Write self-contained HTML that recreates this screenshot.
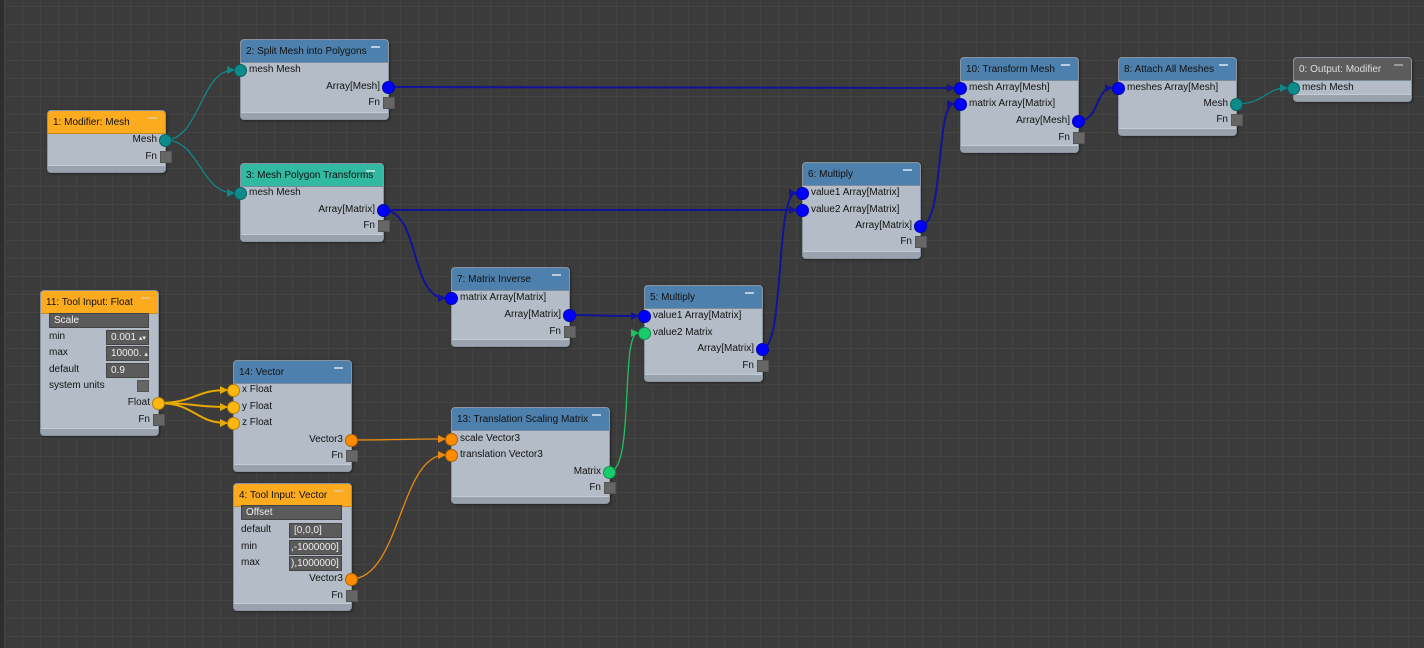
<!DOCTYPE html>
<html><head><meta charset="utf-8"><style>
body{margin:0;width:1424px;height:648px;overflow:hidden;background:#3b3b3b;
background-image:linear-gradient(#434343 1px,transparent 1px),linear-gradient(90deg,#434343 1px,transparent 1px);background-size:18px 18px;background-position:4px 6px;
font-family:"Liberation Sans",sans-serif;font-size:10px;color:#111;position:relative}
.edge{position:absolute;left:0;top:0;width:4px;height:648px;background:#2e2e2e}
.n{position:absolute;background:#b4bdc7;border:1px solid #8a949e;border-radius:4px;box-sizing:border-box;overflow:hidden;box-shadow:1px 1px 2px rgba(0,0,0,.4)}
.n .h{height:22px;line-height:23px;padding-left:5px;background:#4d80ad;border-bottom:1px solid #7a8b9c;white-space:nowrap}
.n .h:after{content:"";position:absolute;right:8px;top:6px;width:9px;height:2px;background:#b8cde0}
.n .f{position:absolute;left:0;right:0;bottom:0;height:6px;background:#9aa3ad;border-top:1px solid #c5ccd4}
.o .h{background:#fcaa1e;border-bottom-color:#c88a20}.o .h:after{background:#e6c27a}
.g .h{background:#31b9a1}.g .h:after{background:#a0e0d0}
.d .h{background:#5c5c5c;color:#ddd}.d .h:after{background:#999}
.l{position:absolute;line-height:14px;white-space:nowrap}
.p{position:absolute;width:13px;height:13px;border-radius:50%;margin:-6.5px 0 0 -6.5px;box-sizing:border-box;border:1px solid rgba(0,0,0,.3)}
.fn{position:absolute;width:12px;height:12px;margin:-6px 0 0 -6px;background:#666;border:1px solid #555;box-sizing:border-box}
.fld{position:absolute;background:#5b5b5b;color:#eee;border:1px solid #444;box-sizing:border-box;line-height:13px;padding-left:4px;white-space:nowrap;overflow:hidden}
.cb{position:absolute;width:12px;height:12px;background:#666;border:1px solid #555;box-sizing:border-box}
.te{background:#0d8a8a}.bl{background:#0000ff}.ye{background:#ffb70f}.or{background:#ff8c00}.gr{background:#18cc6e}
svg{position:absolute;left:0;top:0}
</style></head><body>
<div class="edge"></div>
<svg width="1424" height="648">
<defs>
<marker id="mb" markerWidth="8" markerHeight="8" refX="7" refY="4" orient="auto" markerUnits="userSpaceOnUse"><path d="M0,0L8,4L0,8z" fill="#12129a"/></marker>
<marker id="mt" markerWidth="8" markerHeight="8" refX="7" refY="4" orient="auto" markerUnits="userSpaceOnUse"><path d="M0,0L8,4L0,8z" fill="#118888"/></marker>
<marker id="my" markerWidth="8" markerHeight="8" refX="7" refY="4" orient="auto" markerUnits="userSpaceOnUse"><path d="M0,0L8,4L0,8z" fill="#e8a800"/></marker>
<marker id="mo" markerWidth="8" markerHeight="8" refX="7" refY="4" orient="auto" markerUnits="userSpaceOnUse"><path d="M0,0L8,4L0,8z" fill="#e88a10"/></marker>
<marker id="mg" markerWidth="8" markerHeight="8" refX="7" refY="4" orient="auto" markerUnits="userSpaceOnUse"><path d="M0,0L8,4L0,8z" fill="#20c060"/></marker>
</defs>
<g fill="none">
<path d="M165,140 C200,140 200,70 234,70" stroke="#118888" stroke-width="1.3" marker-end="url(#mt)"/>
<path d="M165,140 C200,140 200,193 234,193" stroke="#118888" stroke-width="1.3" marker-end="url(#mt)"/>
<path d="M1236,104 C1265,104 1265,88 1287,88" stroke="#118888" stroke-width="1.3" marker-end="url(#mt)"/>
<g stroke="#12129a" stroke-width="2">
<path d="M388,87 C670,87 670,88 954,88" marker-end="url(#mb)"/>
<path d="M383,210 C590,210 590,210 796,210" marker-end="url(#mb)"/>
<path d="M383,210 C420,210 410,298 445,298" marker-end="url(#mb)"/>
<path d="M569,315 C600,315 600,316 638,316" marker-end="url(#mb)"/>
<path d="M762,349 C785,349 775,193 796,193" marker-end="url(#mb)"/>
<path d="M920,226 C945,226 935,104 954,104" marker-end="url(#mb)"/>
<path d="M1078,121 C1100,121 1095,88 1112,88" marker-end="url(#mb)"/>
</g>
<g stroke="#e8a800" stroke-width="2">
<path d="M158,403 C195,403 195,390 227,390" marker-end="url(#my)"/>
<path d="M158,403 C195,403 195,407 227,407" marker-end="url(#my)"/>
<path d="M158,403 C195,403 195,423 227,423" marker-end="url(#my)"/>
</g>
<path d="M351,440 C400,440 400,439 445,439" stroke="#e88a10" stroke-width="1.3" marker-end="url(#mo)"/>
<path d="M351,579 C400,579 400,455 445,455" stroke="#e88a10" stroke-width="1.3" marker-end="url(#mo)"/>
<path d="M609,472 C635,472 620,333 638,333" stroke="#20c060" stroke-width="1.3" marker-end="url(#mg)"/>
</g>
</svg>

<div class="n o" style="left:47px;top:110px;width:119px;height:63px"><div class="h">1: Modifier: Mesh</div><div class="f"></div></div>
<div class="n" style="left:240px;top:39px;width:149px;height:81px"><div class="h">2: Split Mesh into Polygons</div><div class="f"></div></div>
<div class="n g" style="left:240px;top:163px;width:144px;height:79px"><div class="h">3: Mesh Polygon Transforms</div><div class="f"></div></div>
<div class="n" style="left:451px;top:267px;width:119px;height:80px"><div class="h">7: Matrix Inverse</div><div class="f"></div></div>
<div class="n" style="left:644px;top:285px;width:119px;height:97px"><div class="h">5: Multiply</div><div class="f"></div></div>
<div class="n" style="left:802px;top:162px;width:119px;height:97px"><div class="h">6: Multiply</div><div class="f"></div></div>
<div class="n" style="left:960px;top:57px;width:119px;height:96px"><div class="h">10: Transform Mesh</div><div class="f"></div></div>
<div class="n" style="left:1118px;top:57px;width:119px;height:79px"><div class="h">8: Attach All Meshes</div><div class="f"></div></div>
<div class="n d" style="left:1293px;top:57px;width:119px;height:45px"><div class="h">0: Output: Modifier</div><div class="f"></div></div>
<div class="n o" style="left:40px;top:290px;width:119px;height:146px"><div class="h">11: Tool Input: Float</div><div class="f"></div></div>
<div class="n" style="left:233px;top:360px;width:119px;height:112px"><div class="h">14: Vector</div><div class="f"></div></div>
<div class="n" style="left:451px;top:407px;width:159px;height:97px"><div class="h">13: Translation Scaling Matrix</div><div class="f"></div></div>
<div class="n o" style="left:233px;top:483px;width:119px;height:128px"><div class="h">4: Tool Input: Vector</div><div class="f"></div></div>

<div class="l" style="right:1267px;top:133px">Mesh</div><div class="p te" style="left:165px;top:140px"></div>
<div class="l" style="right:1267px;top:150px">Fn</div><div class="fn" style="left:166px;top:157px"></div>
<div class="p te" style="left:240px;top:70px"></div><div class="l" style="left:249px;top:63px">mesh Mesh</div>
<div class="l" style="right:1044px;top:80px">Array[Mesh]</div><div class="p bl" style="left:388px;top:87px"></div>
<div class="l" style="right:1044px;top:96px">Fn</div><div class="fn" style="left:389px;top:103px"></div>
<div class="p te" style="left:240px;top:193px"></div><div class="l" style="left:249px;top:186px">mesh Mesh</div>
<div class="l" style="right:1049px;top:203px">Array[Matrix]</div><div class="p bl" style="left:383px;top:210px"></div>
<div class="l" style="right:1049px;top:219px">Fn</div><div class="fn" style="left:384px;top:226px"></div>
<div class="p bl" style="left:451px;top:298px"></div><div class="l" style="left:460px;top:291px">matrix Array[Matrix]</div>
<div class="l" style="right:863px;top:308px">Array[Matrix]</div><div class="p bl" style="left:569px;top:315px"></div>
<div class="l" style="right:863px;top:325px">Fn</div><div class="fn" style="left:570px;top:332px"></div>
<div class="p bl" style="left:644px;top:316px"></div><div class="l" style="left:653px;top:309px">value1 Array[Matrix]</div>
<div class="p gr" style="left:644px;top:333px"></div><div class="l" style="left:653px;top:326px">value2 Matrix</div>
<div class="l" style="right:670px;top:342px">Array[Matrix]</div><div class="p bl" style="left:762px;top:349px"></div>
<div class="l" style="right:670px;top:359px">Fn</div><div class="fn" style="left:763px;top:366px"></div>
<div class="p bl" style="left:802px;top:193px"></div><div class="l" style="left:811px;top:186px">value1 Array[Matrix]</div>
<div class="p bl" style="left:802px;top:210px"></div><div class="l" style="left:811px;top:203px">value2 Array[Matrix]</div>
<div class="l" style="right:512px;top:219px">Array[Matrix]</div><div class="p bl" style="left:920px;top:226px"></div>
<div class="l" style="right:512px;top:235px">Fn</div><div class="fn" style="left:921px;top:242px"></div>
<div class="p bl" style="left:960px;top:88px"></div><div class="l" style="left:969px;top:81px">mesh Array[Mesh]</div>
<div class="p bl" style="left:960px;top:104px"></div><div class="l" style="left:969px;top:97px">matrix Array[Matrix]</div>
<div class="l" style="right:354px;top:114px">Array[Mesh]</div><div class="p bl" style="left:1078px;top:121px"></div>
<div class="l" style="right:354px;top:131px">Fn</div><div class="fn" style="left:1079px;top:138px"></div>
<div class="p bl" style="left:1118px;top:88px"></div><div class="l" style="left:1127px;top:81px">meshes Array[Mesh]</div>
<div class="l" style="right:196px;top:97px">Mesh</div><div class="p te" style="left:1236px;top:104px"></div>
<div class="l" style="right:196px;top:113px">Fn</div><div class="fn" style="left:1237px;top:120px"></div>
<div class="p te" style="left:1293px;top:88px"></div><div class="l" style="left:1302px;top:81px">mesh Mesh</div>
<div class="fld" style="left:49px;top:313px;width:100px;height:15px;color:#f0f0f0">Scale</div>
<div class="l" style="left:49px;top:330px">min</div><div class="fld" style="left:106px;top:330px;width:43px;height:15px">0.001 <span style="font-size:7px">&#x25B4;&#x25BE;</span></div>
<div class="l" style="left:49px;top:346px">max</div><div class="fld" style="left:106px;top:346px;width:43px;height:15px">10000. <span style="font-size:7px">&#x25B4;</span></div>
<div class="l" style="left:49px;top:363px">default</div><div class="fld" style="left:106px;top:363px;width:43px;height:15px">0.9</div>
<div class="l" style="left:49px;top:379px">system units</div><div class="cb" style="left:137px;top:380px"></div>
<div class="l" style="right:1274px;top:396px">Float</div><div class="p ye" style="left:158px;top:403px"></div>
<div class="l" style="right:1274px;top:413px">Fn</div><div class="fn" style="left:159px;top:420px"></div>
<div class="p ye" style="left:233px;top:390px"></div><div class="l" style="left:242px;top:383px">x Float</div>
<div class="p ye" style="left:233px;top:407px"></div><div class="l" style="left:242px;top:400px">y Float</div>
<div class="p ye" style="left:233px;top:423px"></div><div class="l" style="left:242px;top:416px">z Float</div>
<div class="l" style="right:1081px;top:433px">Vector3</div><div class="p or" style="left:351px;top:440px"></div>
<div class="l" style="right:1081px;top:449px">Fn</div><div class="fn" style="left:352px;top:456px"></div>
<div class="p or" style="left:451px;top:439px"></div><div class="l" style="left:460px;top:432px">scale Vector3</div>
<div class="p or" style="left:451px;top:455px"></div><div class="l" style="left:460px;top:448px">translation Vector3</div>
<div class="l" style="right:823px;top:465px">Matrix</div><div class="p gr" style="left:609px;top:472px"></div>
<div class="l" style="right:823px;top:481px">Fn</div><div class="fn" style="left:610px;top:488px"></div>
<div class="fld" style="left:241px;top:505px;width:101px;height:15px">Offset</div>
<div class="l" style="left:241px;top:523px">default</div><div class="fld" style="left:289px;top:523px;width:53px;height:15px">[0,0,0]</div>
<div class="l" style="left:241px;top:540px">min</div><div class="fld" style="left:289px;top:540px;width:53px;height:15px;padding-left:1px">,-1000000]</div>
<div class="l" style="left:241px;top:556px">max</div><div class="fld" style="left:289px;top:556px;width:53px;height:15px;padding-left:1px">),1000000]</div>
<div class="l" style="right:1081px;top:572px">Vector3</div><div class="p or" style="left:351px;top:579px"></div>
<div class="l" style="right:1081px;top:589px">Fn</div><div class="fn" style="left:352px;top:596px"></div>
</body></html>
